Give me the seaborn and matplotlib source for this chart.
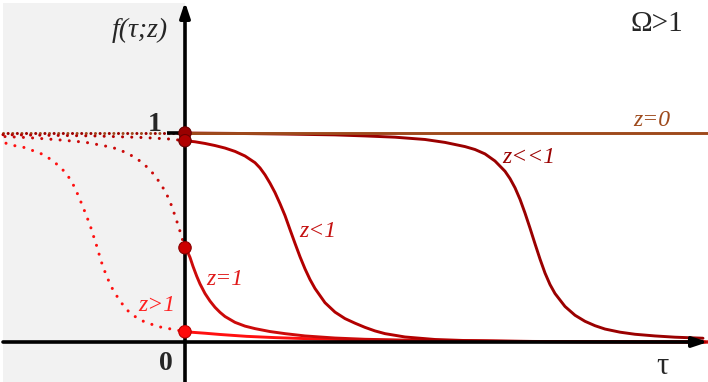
import numpy as np
import pandas as pd
import matplotlib
matplotlib.use("Agg")
import matplotlib.pyplot as plt
import seaborn as sns

# ---------------- data ----------------
# right half (tau >= 0), solid curves
tau_z0 = [0.0, 5.23]
f_z0 = [1.0, 1.0]

tau_zll1 = [0.0, 0.5, 1.0, 1.5, 1.8, 2.1, 2.4, 2.6, 2.8, 2.9, 3.0, 3.1, 3.2, 3.25,
            3.3, 3.35, 3.4, 3.45, 3.5, 3.55, 3.6, 3.65, 3.7, 3.8, 3.9, 4.0, 4.1, 4.2,
            4.35, 4.5, 4.7, 4.9, 5.18]
f_zll1 = [1.0, 0.998, 0.995, 0.991, 0.986, 0.980, 0.969, 0.955, 0.935, 0.921, 0.900,
          0.866, 0.817, 0.782, 0.738, 0.683, 0.617, 0.545, 0.470, 0.397, 0.330, 0.275,
          0.232, 0.170, 0.128, 0.099, 0.078, 0.062, 0.047, 0.037, 0.029, 0.023, 0.018]

tau_zl1 = [0.0, 0.1, 0.2, 0.3, 0.4, 0.5, 0.6, 0.7, 0.75, 0.8, 0.85, 0.9, 0.95, 1.0,
           1.05, 1.1, 1.15, 1.2, 1.25, 1.3, 1.4, 1.5, 1.6, 1.7, 1.8, 1.9, 2.0, 2.2,
           2.5, 2.8, 3.2, 3.6, 4.2, 5.2]
f_zl1 = [0.963, 0.958, 0.950, 0.940, 0.928, 0.912, 0.890, 0.858, 0.833, 0.800, 0.760,
         0.715, 0.662, 0.605, 0.538, 0.472, 0.408, 0.350, 0.299, 0.256, 0.188, 0.143,
         0.112, 0.090, 0.070, 0.053, 0.040, 0.024, 0.012, 0.007, 0.004, 0.002, 0.001, 0.0]

tau_z1 = [0.0, 0.02, 0.05, 0.08, 0.117, 0.15, 0.2, 0.25, 0.3, 0.35, 0.4, 0.5, 0.6,
          0.7, 0.85, 1.0, 1.2, 1.5, 1.8, 2.2, 2.7, 3.3, 4.2, 5.23]
f_z1 = [0.451, 0.437, 0.405, 0.362, 0.315, 0.278, 0.232, 0.196, 0.166, 0.142, 0.122,
        0.094, 0.076, 0.064, 0.050, 0.040, 0.029, 0.019, 0.013, 0.009, 0.006, 0.003,
        0.0015, 0.0]

tau_zg1 = [0.0, 0.2, 0.35, 0.617, 0.9, 1.15, 1.45, 1.75, 2.2, 2.65, 3.15, 3.65, 4.4, 5.23]
f_zg1 = [0.049, 0.042, 0.036, 0.027, 0.021, 0.017, 0.013, 0.0096, 0.0070, 0.0048,
         0.0032, 0.0019, 0.0008, 0.0]

# left half (tau < 0), dotted continuations
tau_z0_neg = [-1.82, 0.0]
f_z0_neg = [1.0, 1.0]

tau_zl1_neg = [-1.82, -0.9, -0.4, -0.15, 0.0]
f_zl1_neg = [0.992, 0.986, 0.978, 0.971, 0.963]

tau_z1_neg = [-1.80, -1.57, -1.28, -1.00, -0.81, -0.72, -0.65, -0.58, -0.52, -0.45,
              -0.40, -0.35, -0.30, -0.25, -0.21, -0.18, -0.15, -0.12, -0.09, -0.07,
              -0.05, -0.03, -0.015, 0.0]
f_z1_neg = [0.983, 0.978, 0.968, 0.956, 0.939, 0.930, 0.918, 0.904, 0.888, 0.866,
            0.846, 0.823, 0.795, 0.761, 0.730, 0.703, 0.672, 0.632, 0.590, 0.560,
            0.530, 0.498, 0.474, 0.450]

tau_zg1_neg = [-1.79, -1.70, -1.60, -1.517, -1.423, -1.343, -1.267, -1.20, -1.15, -1.10,
               -1.06, -1.02, -0.985, -0.95, -0.915, -0.88, -0.85, -0.82, -0.77, -0.72,
               -0.65, -0.58, -0.50, -0.42, -0.33, -0.25, -0.15, -0.05, 0.0]
f_zg1_neg = [0.951, 0.939, 0.930, 0.915, 0.898, 0.874, 0.845, 0.813, 0.780, 0.737,
             0.692, 0.646, 0.603, 0.560, 0.507, 0.455, 0.405, 0.359, 0.300, 0.249,
             0.196, 0.153, 0.122, 0.100, 0.084, 0.072, 0.063, 0.054, 0.049]

# points on the f-axis
marker_f = [1.0, 0.963, 0.451, 0.049]

labels = ["z=0", "z<<1", "z<1", "z=1", "z>1"]
label_tau = [4.67, 3.44, 1.33, 0.40, -0.28]
label_f = [1.058, 0.885, 0.531, 0.301, 0.177]

# ---------------- style ----------------
C_Z0 = "#9e4a1c"
C_ZLL = "#9a0000"
C_ZL = "#b20000"
C_Z1 = "#cc0a0a"
C_ZG = "#ff1010"

sns.set_style("white")
plt.rcParams["font.family"] = ["Liberation Serif", "DejaVu Serif"]

fig = plt.figure(figsize=(7.08, 3.82), dpi=100)
ax = fig.add_axes([0, 0, 1, 1])
ax.set_xlim(-1.85, 5.23)
ax.set_ylim(-0.1914, 1.6364)
ax.axis("off")

# grey half plane
ax.axvspan(-1.82, 0.0, ymin=0.0, ymax=0.992, color="#f2f2f2", lw=0, zorder=0)

def frame(t, f):
    return pd.DataFrame({"tau": t, "f": f})

dot = dict(linestyle=(0, (0.01, 3.0)), dash_capstyle="round", lw=2.2)
# dotted, left
sns.lineplot(data=frame(tau_z0_neg, f_z0_neg), x="tau", y="f", ax=ax, color=C_Z0,
             sort=False, estimator=None, zorder=3, **dot)
sns.lineplot(data=frame(tau_z0_neg, f_z0_neg), x="tau", y="f", ax=ax, color=C_ZLL,
             sort=False, estimator=None, zorder=3, linestyle=(1.5, (0.01, 3.0)),
             dash_capstyle="round", lw=2.2)
sns.lineplot(data=frame(tau_zl1_neg, f_zl1_neg), x="tau", y="f", ax=ax, color=C_ZL,
             sort=False, estimator=None, zorder=3, **dot)
sns.lineplot(data=frame(tau_z1_neg, f_z1_neg), x="tau", y="f", ax=ax, color=C_Z1,
             sort=False, estimator=None, zorder=3, **dot)
sns.lineplot(data=frame(tau_zg1_neg, f_zg1_neg), x="tau", y="f", ax=ax, color=C_ZG,
             sort=False, estimator=None, zorder=3, **dot)

# solid, right
for t, f, c in [(tau_zg1, f_zg1, C_ZG), (tau_z1, f_z1, C_Z1), (tau_zl1, f_zl1, C_ZL),
                (tau_zll1, f_zll1, C_ZLL), (tau_z0, f_z0, C_Z0)]:
    sns.lineplot(data=frame(t, f), x="tau", y="f", ax=ax, color=c, lw=2.1,
                 sort=False, estimator=None, zorder=4)

# axes with arrows
ax.annotate("", xy=(5.23, 0.0), xytext=(-1.82, 0.0),
            arrowprops=dict(arrowstyle="-|>,head_length=0.9,head_width=0.3",
                            lw=2.6, color="black", shrinkA=0, shrinkB=0),
            zorder=5)
ax.annotate("", xy=(0.0, 1.627), xytext=(0.0, -0.1914),
            arrowprops=dict(arrowstyle="-|>,head_length=0.9,head_width=0.3",
                            lw=2.6, color="black", shrinkA=0, shrinkB=0),
            zorder=5)
ax.plot([-0.18, 0.0], [1.0, 1.0], color="black", lw=2.6, zorder=5,
        solid_capstyle="butt")

# markers on the f axis
mk_face = [C_ZLL, "#b00000", "#cc0000", "#ff0a0a"]
mk_edge = ["#6a0000", "#6a0000", "#880000", "#bb0000"]
sns.scatterplot(x=[0.0] * len(marker_f), y=marker_f, ax=ax, s=80, hue=list(range(len(marker_f))),
                palette=mk_face, edgecolor=mk_edge, linewidth=0.8, legend=False, zorder=6)

# texts
ax.text(-0.45, 1.49, "f(τ;z)", fontsize=20, style="italic", ha="center",
        va="center", zorder=7)
ax.text(4.72, 1.52, "Ω>1", fontsize=21, ha="center", va="center")
ax.text(-0.30, 1.04, "1", fontsize=20, fontweight="bold", ha="center", va="center")
ax.text(-0.19, -0.105, "0", fontsize=20, fontweight="bold", ha="center", va="center")
ax.text(4.77, -0.115, "τ", fontsize=22, ha="center", va="center")

label_colors = [C_Z0, C_ZLL, "#c41010", "#e01a1a", "#ff2020"]
for lab, lt, lf, lc in zip(labels, label_tau, label_f, label_colors):
    ax.text(lt, lf, lab, fontsize=17, style="italic", color=lc, ha="center", va="center",
            zorder=7)

fig.savefig("out.png", dpi=100)
